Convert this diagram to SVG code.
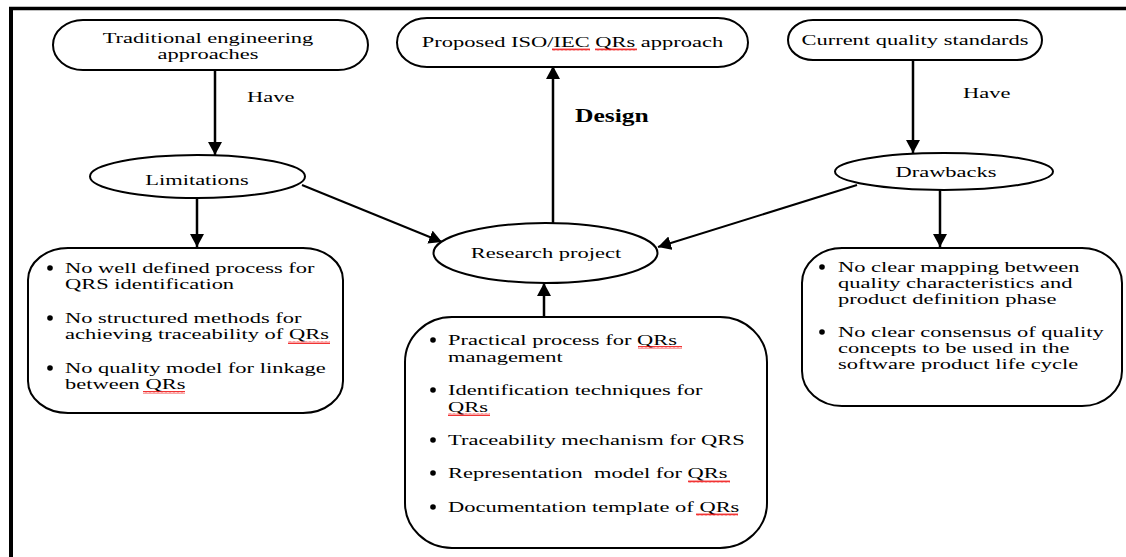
<svg xmlns="http://www.w3.org/2000/svg" width="1126" height="557" viewBox="0 0 1126 557">
  <style>
    .node { fill: #fff; stroke: #000; stroke-width: 2; }
    .t { font-family: "Liberation Serif", "Times New Roman", serif; font-size: 15.5px; fill: #000; }
    .c { text-anchor: middle; }
    .b { font-weight: bold; font-size: 18px; }
    .pre { white-space: pre; }
    .bullet { fill: #000; }
    .conn line { stroke: #000; stroke-width: 2.5; }
    .conn line.diag { stroke-width: 2; }
    .squig { fill: url(#wave); }
  </style>
  <defs>
    <marker id="arrow" markerUnits="userSpaceOnUse" markerWidth="14" markerHeight="14" refX="13" refY="7" orient="auto">
      <path d="M0,0 L13,7 L0,14 Z" fill="#000"/>
    </marker>
    <pattern id="wave" patternUnits="userSpaceOnUse" width="4" height="3">
      <path d="M0,2.5 L1,0.5 L2,2.5 L3,0.5 L4,2.5" fill="none" stroke="#e00" stroke-width="0.8"/>
    </pattern>
  </defs>

  <rect width="1126" height="557" fill="#fff"/>
  <!-- frame edges -->
  <line x1="9" y1="8.5" x2="1126" y2="8.5" stroke="#000" stroke-width="3.5"/>
  <line x1="11" y1="7" x2="11" y2="557" stroke="#000" stroke-width="4"/>

  <!-- connectors -->
  <g id="connectors" class="conn">
    <line x1="215" y1="70" x2="215" y2="155" marker-end="url(#arrow)"/>
    <line x1="913" y1="60" x2="913" y2="153" marker-end="url(#arrow)"/>
    <line x1="197" y1="198" x2="197" y2="247" marker-end="url(#arrow)"/>
    <line x1="940" y1="190" x2="940" y2="247" marker-end="url(#arrow)"/>
    <line class="diag" x1="302" y1="185" x2="442" y2="242" marker-end="url(#arrow)"/>
    <line class="diag" x1="857" y1="185" x2="658" y2="247" marker-end="url(#arrow)"/>
    <line x1="553" y1="223" x2="553" y2="66" marker-end="url(#arrow)"/>
    <line x1="544" y1="317" x2="544" y2="283" marker-end="url(#arrow)"/>
    <text class="t" transform="translate(247,102) scale(1.45,1)">Have</text>
    <text class="t" transform="translate(963,98) scale(1.45,1)">Have</text>
    <text class="t b" transform="translate(575,122) scale(1.42,1)">Design</text>
  </g>

  <g id="traditional">
    <rect class="node" x="53" y="20" width="315" height="50" rx="30" ry="25"/>
    <text class="t c" transform="translate(208,43) scale(1.45,1)">Traditional engineering</text>
    <text class="t c" transform="translate(208,59) scale(1.45,1)">approaches</text>
  </g>

  <g id="proposed">
    <rect class="node" x="397" y="18" width="351" height="49" rx="30" ry="24.5"/>
    <text class="t c" transform="translate(572.5,47) scale(1.45,1)">Proposed ISO/IEC QRs approach</text>
    <rect class="squig" x="552" y="48" width="38" height="3"/>
    <rect class="squig" x="595" y="48" width="42" height="3"/>
  </g>

  <g id="current">
    <rect class="node" x="788" y="20" width="254" height="40" rx="25" ry="20"/>
    <text class="t c" transform="translate(915,45) scale(1.45,1)">Current quality standards</text>
  </g>

  <g id="limitations">
    <ellipse class="node" cx="197.5" cy="176.5" rx="107.5" ry="21.5"/>
    <text class="t c" transform="translate(197,185) scale(1.45,1)">Limitations</text>
  </g>

  <g id="drawbacks">
    <ellipse class="node" cx="944" cy="171.5" rx="109" ry="18.5"/>
    <text class="t c" transform="translate(946,177) scale(1.45,1)">Drawbacks</text>
  </g>

  <g id="research">
    <ellipse class="node" cx="545.5" cy="253" rx="112" ry="30"/>
    <text class="t c" transform="translate(546,258) scale(1.45,1)">Research project</text>
  </g>

  <g id="limitations-list">
    <rect class="node" x="28" y="248" width="315" height="165" rx="40" ry="32"/>
    <circle class="bullet" cx="50" cy="268" r="2.8"/>
    <text class="t" transform="translate(65,273) scale(1.45,1)">No well defined process for</text>
    <text class="t" transform="translate(65,289) scale(1.45,1)">QRS identification</text>
    <circle class="bullet" cx="50" cy="318" r="2.8"/>
    <text class="t" transform="translate(65,323) scale(1.45,1)">No structured methods for</text>
    <text class="t" transform="translate(65,339) scale(1.45,1)">achieving traceability of QRs</text>
    <rect class="squig" x="288" y="341" width="42" height="3"/>
    <circle class="bullet" cx="50" cy="368" r="2.8"/>
    <text class="t" transform="translate(65,373) scale(1.45,1)">No quality model for linkage</text>
    <text class="t" transform="translate(65,389) scale(1.45,1)">between QRs</text>
    <rect class="squig" x="143" y="391" width="42" height="3"/>
  </g>

  <g id="research-list">
    <rect class="node" x="405" y="317" width="362" height="231" rx="47" ry="45"/>
    <circle class="bullet" cx="433" cy="340" r="2.8"/>
    <text class="t" transform="translate(448,345) scale(1.45,1)">Practical process for QRs</text>
    <text class="t" transform="translate(448,362) scale(1.45,1)">management</text>
    <rect class="squig" x="638" y="346" width="44" height="3"/>
    <circle class="bullet" cx="433" cy="390" r="2.8"/>
    <text class="t" transform="translate(448,395) scale(1.45,1)">Identification techniques for</text>
    <text class="t" transform="translate(448,412) scale(1.45,1)">QRs</text>
    <rect class="squig" x="448" y="413" width="42" height="3"/>
    <circle class="bullet" cx="433" cy="440" r="2.8"/>
    <text class="t" transform="translate(448,445) scale(1.45,1)">Traceability mechanism for QRS</text>
    <circle class="bullet" cx="433" cy="473" r="2.8"/>
    <text class="t pre" transform="translate(448,478) scale(1.45,1)">Representation  model for QRs</text>
    <rect class="squig" x="688" y="480" width="42" height="3"/>
    <circle class="bullet" cx="433" cy="507" r="2.8"/>
    <text class="t" transform="translate(448,512) scale(1.45,1)">Documentation template of QRs</text>
    <rect class="squig" x="696" y="513" width="42" height="3"/>
  </g>

  <g id="drawbacks-list">
    <rect class="node" x="802" y="248" width="320" height="158" rx="40" ry="35"/>
    <circle class="bullet" cx="822" cy="267" r="2.8"/>
    <text class="t" transform="translate(838,272) scale(1.45,1)">No clear mapping between</text>
    <text class="t" transform="translate(838,288) scale(1.45,1)">quality characteristics and</text>
    <text class="t" transform="translate(838,304) scale(1.45,1)">product definition phase</text>
    <circle class="bullet" cx="822" cy="332" r="2.8"/>
    <text class="t" transform="translate(838,337) scale(1.45,1)">No clear consensus of quality</text>
    <text class="t" transform="translate(838,353) scale(1.45,1)">concepts to be used in the</text>
    <text class="t" transform="translate(838,369) scale(1.45,1)">software product life cycle</text>
  </g>
</svg>
